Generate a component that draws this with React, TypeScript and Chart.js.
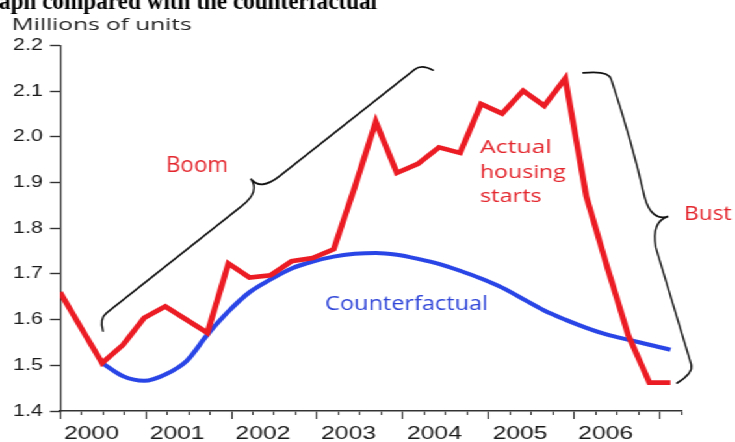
import React, { useEffect, useRef } from 'react';
import { Chart, registerables } from 'chart.js';

Chart.register(...registerables);

// ---- data (millions of units, quarterly from 2000Q1) ----
const QUARTERS: string[] = [
  '2000Q1', '2000Q2', '2000Q3', '2000Q4', '2001Q1', '2001Q2', '2001Q3', '2001Q4',
  '2002Q1', '2002Q2', '2002Q3', '2002Q4', '2003Q1', '2003Q2', '2003Q3', '2003Q4',
  '2004Q1', '2004Q2', '2004Q3', '2004Q4', '2005Q1', '2005Q2', '2005Q3', '2005Q4',
  '2006Q1', '2006Q2', '2006Q3', '2006Q4', '2007Q1', '2007Q2',
];
const ACTUAL: number[] = [
  1.66, 1.582, 1.505, 1.545, 1.604, 1.629, 1.6, 1.571,
  1.723, 1.692, 1.697, 1.728, 1.735, 1.754, 1.89, 2.033,
  1.921, 1.941, 1.977, 1.965, 2.072, 2.051, 2.101, 2.068,
  2.128, 1.87, 1.714, 1.565, 1.462, 1.462,
];
const COUNTERFACTUAL: (number | null)[] = [
  null, null, 1.505, 1.476, 1.466, 1.48, 1.509, 1.567,
  1.618, 1.66, 1.688, 1.712, 1.727, 1.738, 1.744, 1.746,
  1.742, 1.733, 1.722, 1.707, 1.69, 1.67, 1.645, 1.62,
  1.6, 1.582, 1.567, 1.556, 1.545, 1.534,
];
const Y_TICKS: number[] = [1.4, 1.5, 1.6, 1.7, 1.8, 1.9, 2.0, 2.1, 2.2];
const YEAR_TICKS: number[] = [2000, 2001, 2002, 2003, 2004, 2005, 2006, 2007];
const YEAR_LABELS: string[] = ['2000', '2001', '2002', '2003', '2004', '2005', '2006', ''];

const TITLE = 'aph compared with the counterfactual';
const Y_UNIT = 'Millions of units';

// ---- style / layout ----
const S = 1.3; // horizontal stretch of the picture
const W = 735 / S;
const H = 442;
const RED = '#ec1c24';
const BLUE = '#2a45e6';
const RED_TXT = '#e3262d';
const BLUE_TXT = '#2f45d8';
const AXIS = '#333333';

function stretchText(ctx: CanvasRenderingContext2D, s: string, x: number, y: number, font: string, color: string, width: number) {
  ctx.save();
  ctx.font = font;
  ctx.fillStyle = color;
  ctx.textAlign = 'left';
  ctx.textBaseline = 'alphabetic';
  const m = ctx.measureText(s).width;
  const k = m > 0 ? width / m : 1;
  ctx.translate(x, y);
  ctx.scale(k, 1);
  ctx.fillText(s, 0, 0);
  ctx.restore();
}

function brace(ctx: CanvasRenderingContext2D, p0: [number, number], p1: [number, number], d1: number, d2: number, t: number, r: number, s: number) {
  const dx = p1[0] - p0[0];
  const dy = p1[1] - p0[1];
  const L = Math.hypot(dx, dy);
  const ux = dx / L, uy = dy / L;
  const vx = uy, vy = -ux;
  const P = (a: number, b: number): [number, number] => [p0[0] + ux * a + vx * b, p0[1] + uy * a + vy * b];
  const h = L / 2;
  ctx.beginPath();
  let p = P(0, 0); ctx.moveTo(p[0], p[1]);
  let c = P(0.35 * r, d1); p = P(r, d1); ctx.quadraticCurveTo(c[0], c[1], p[0], p[1]);
  c = P(h * 0.5, d1 + (d1 - (d1 + d2) / 2) * 0.6); p = P(h - s, (d1 + d2) / 2 + (d1 - d2) * 0.15);
  ctx.quadraticCurveTo(c[0], c[1], p[0], p[1]);
  c = P(h, (d1 + d2) / 2); p = P(h, t); ctx.quadraticCurveTo(c[0], c[1], p[0], p[1]);
  c = P(h, (d1 + d2) / 2); p = P(h + s, d2); ctx.quadraticCurveTo(c[0], c[1], p[0], p[1]);
  p = P(L - r, d2); ctx.lineTo(p[0], p[1]);
  c = P(L - 0.35 * r, d2); p = P(L, 0); ctx.quadraticCurveTo(c[0], c[1], p[0], p[1]);
  ctx.stroke();
}

const annotations = {
  id: 'annotations',
  afterDraw(chart: any) {
    const ctx: CanvasRenderingContext2D = chart.ctx;
    const xs = chart.scales.x;
    const ys = chart.scales.y;
    const X = (q: number) => xs.getPixelForValue(q) * S;
    const Y = (v: number) => ys.getPixelForValue(v);
    ctx.save();
    ctx.scale(1 / S, 1);

    stretchText(ctx, TITLE, -1, 8.5, 'bold 25px "Liberation Serif"', '#000', 378);
    stretchText(ctx, Y_UNIT, 11.7, 30, '16.5px "Open Sans"', '#222', 180);

    ctx.strokeStyle = '#111';
    ctx.lineWidth = 1.8;
    ctx.lineCap = 'round';
    brace(ctx, [X(2.04), Y(1.575)], [X(17.72), Y(2.146)], 12, 12, 28, 14, 24);
    brace(ctx, [X(24.85), Y(2.14)], [X(29.31), Y(1.461)], 25, 19, 40, 14, 26);

    stretchText(ctx, 'Boom', X(5.04), Y(1.9237), '21px "Open Sans"', RED_TXT, 62);
    stretchText(ctx, 'Actual', X(19.95), Y(1.9653), '19px "Open Sans"', RED_TXT, 71.7);
    stretchText(ctx, 'housing', X(19.95), Y(1.9093), '19px "Open Sans"', RED_TXT, 85.7);
    stretchText(ctx, 'starts', X(19.95), Y(1.858), '19px "Open Sans"', RED_TXT, 61.7);
    stretchText(ctx, 'Counterfactual', X(12.59), Y(1.621), '19.5px "Open Sans"', BLUE_TXT, 163);
    stretchText(ctx, 'Bust', X(29.64), Y(1.817), '19.5px "Open Sans"', RED_TXT, 47.7);
    ctx.restore();
  },
};

export default function App() {
  const ref = useRef<HTMLCanvasElement | null>(null);
  useEffect(() => {
    if (!ref.current) return;
    const chart = new Chart(ref.current, {
      type: 'line',
      data: {
        labels: QUARTERS,
        datasets: [
          {
            label: 'Actual housing starts',
            data: ACTUAL.map((y, i) => ({ x: i, y })),
            borderColor: RED,
            borderWidth: 4.6,
            pointRadius: 0,
            tension: 0,
            borderJoinStyle: 'miter',
            xAxisID: 'x',
            yAxisID: 'y',
          },
          {
            label: 'Counterfactual',
            data: COUNTERFACTUAL.map((y, i) => ({ x: i, y })),
            borderColor: BLUE,
            borderWidth: 4,
            pointRadius: 0,
            tension: 0.4,
            cubicInterpolationMode: 'monotone',
            spanGaps: false,
            xAxisID: 'x',
            yAxisID: 'y',
          },
        ] as any,
      },
      options: {
        animation: false,
        responsive: true,
        maintainAspectRatio: false,
        events: [],
        layout: { padding: { top: 45.5, right: 41.2, left: 0, bottom: 0 } },
        plugins: { legend: { display: false }, tooltip: { enabled: false }, title: { display: false } },
        scales: {
          x: { type: 'linear', min: 0, max: 29.52, display: false },
          xq: {
            type: 'linear', position: 'bottom', min: 2000, max: 2007.25, weight: 0,
            afterBuildTicks: (s: any) => {
              const t: any[] = [];
              YEAR_TICKS.forEach((yr) => [0, 0.25, 0.5, 0.75].forEach((f) => { if (yr + f <= 2007.25) t.push({ value: yr + f }); }));
              s.ticks = t;
            },
            ticks: { display: false },
            grid: { drawOnChartArea: false, tickLength: 4, color: AXIS, tickWidth: 1.1 },
            border: { display: true, color: AXIS, width: 1.6 },
            afterFit: (s: any) => { s.height = 4; },
          },
          xm: {
            type: 'linear', position: 'bottom', min: 2000, max: 2007.25, weight: 1,
            afterBuildTicks: (s: any) => { s.ticks = YEAR_TICKS.map((v) => ({ value: v })); },
            ticks: {
              autoSkip: false, maxRotation: 0, labelOffset: 24.2, padding: 3,
              color: '#1a1a1a', font: { family: '"Liberation Sans"', size: 19 },
              callback: (_v: any, i: number) => YEAR_LABELS[i],
            },
            grid: { drawOnChartArea: false, tickLength: 4, color: AXIS, tickWidth: 1.1 },
            border: { display: false },
            afterFit: (s: any) => { s.height = 27; },
          },
          y: {
            type: 'linear', min: 1.4, max: 2.2,
            afterBuildTicks: (s: any) => { s.ticks = Y_TICKS.map((v) => ({ value: v })); },
            ticks: {
              padding: 5.4, color: '#1a1a1a', font: { family: '"Liberation Sans"', size: 16.5 },
              callback: (v: any) => Number(v).toFixed(1),
            },
            grid: { drawOnChartArea: false, tickLength: 7.7, color: AXIS, tickWidth: 1.4 },
            border: { display: true, color: AXIS, width: 1.25 },
            afterFit: (s: any) => { s.width = 46.15; },
          },
        } as any,
      },
      plugins: [annotations],
    });
    return () => chart.destroy();
  }, []);

  return (
    <div style={{ position: 'absolute', left: 0, top: 0, width: W + 'px', height: H + 'px', transform: `scaleX(${S})`, transformOrigin: '0 0', background: '#fff' }}>
      <canvas ref={ref} />
    </div>
  );
}
